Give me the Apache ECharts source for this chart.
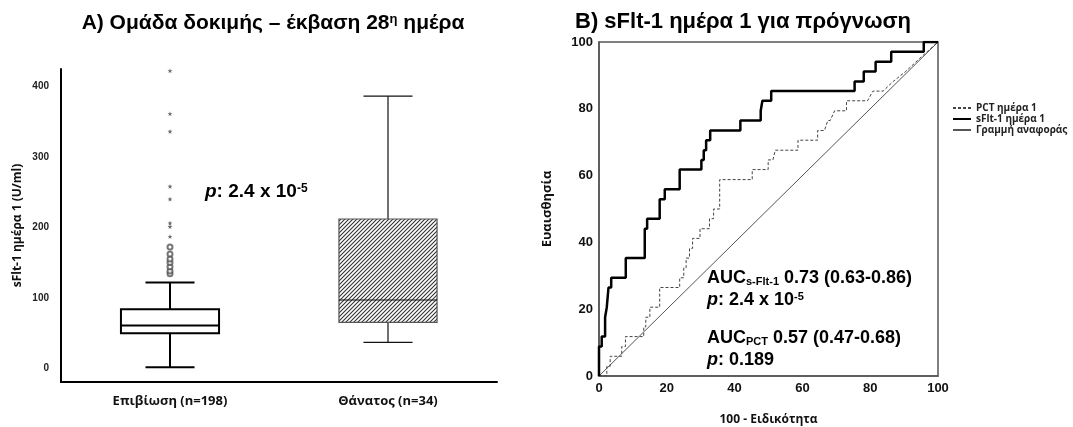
<!DOCTYPE html>
<html>
<head>
<meta charset="utf-8">
<script src="https://cdn.jsdelivr.net/npm/echarts@6/dist/echarts.min.js"></script>
<style>
html,body{margin:0;padding:0;background:#fff;}
#main{width:1073px;height:427px;}
</style>
</head>
<body>
<div id="main"></div>
<script>
// ---------- DATA ----------
const categories = ['Επιβίωση (n=198)', 'Θάνατος (n=34)'];
// [min, Q1, median, Q3, max]
const boxSurvival = [1.4, 49.6, 60.9, 83.6, 121.8];
const boxDeath = [36.9, 65.2, 96.9, 211.8, 386];
const outlierCircles = [134, 138, 144, 150, 155, 162, 172];
const outlierStars = [187, 201, 206, 240, 258, 336, 361, 422];
const boxTicks = [0, 100, 200, 300, 400];

// ROC curves: x = 100 - specificity, y = sensitivity
const pctX = [0,2.3,2.3,3.3,3.3,6.7,6.7,7.8,7.8,13.2,13.2,13.8,13.8,15,15,17.9,17.9,23.8,23.8,25,25,25.7,25.7,26.7,26.7,27.6,27.6,29.8,29.8,32.6,32.6,33.8,33.8,35.6,35.6,45.2,45.2,49.9,49.9,51.3,52,58.7,58.7,64.5,64.5,66.5,67.5,68.2,69.5,73,73,79.2,80.8,83.8,86.8,90.5,94,97,100];
const pctY = [0,0,2.9,2.9,5.9,5.9,8.8,8.8,11.8,11.8,14.7,14.7,17.6,17.6,20.6,20.6,26.5,26.5,29.4,29.4,32.4,32.4,35.3,35.3,38.2,38.2,41.2,41.2,44.1,44.1,47.1,47.1,50,50,58.8,58.8,61.8,61.8,64.7,64.7,67.6,67.6,70.6,70.6,73.5,73.5,76.5,76.5,79.4,79.4,82.4,82.4,85.3,85.3,88.2,91.2,94.5,97.3,100];
const sfltX = [0,0,0.8,0.8,1.8,1.8,2.3,2.3,2.8,2.8,3.6,3.6,7.9,7.9,13.5,13.5,14.2,14.2,17.9,17.9,19.4,19.4,23.8,23.8,30.2,30.2,30.9,30.9,31.6,31.6,32.8,32.8,41.7,41.7,47.7,47.7,48.2,48.2,50.8,50.8,75.4,75.4,78.1,78.1,81.6,81.6,86.2,86.2,95.8,95.8,100];
const sfltY = [0,8.8,8.8,11.8,11.8,17.6,17.6,20.6,20.6,26.5,26.5,29.4,29.4,35.3,35.3,44.1,44.1,47.1,47.1,52.9,52.9,55.9,55.9,61.8,61.8,64.7,64.7,67.6,67.6,70.6,70.6,73.5,73.5,76.5,76.5,79.4,79.4,82.4,82.4,85.3,85.3,88.2,88.2,91.2,91.2,94.1,94.1,97.1,97.1,100,100];
const refX = [0, 100];
const refY = [0, 100];
const rocTicks = [0, 20, 40, 60, 80, 100];
const seriesNames = ['PCT ημέρα 1', 'sFlt-1 ημέρα 1', 'Γραμμή αναφοράς'];

// ---------- helpers ----------
const zip = (xs, ys) => xs.map((x, i) => [x, ys[i]]);
const ARIAL = "'Liberation Sans', Arial, sans-serif";
const OPEN = "'Open Sans', 'Noto Sans', sans-serif";

function makeHatch() {
  const c = document.createElement('canvas');
  c.width = 4; c.height = 4;
  const g = c.getContext('2d');
  g.fillStyle = '#ffffff'; g.fillRect(0, 0, 4, 4);
  g.strokeStyle = '#333333'; g.lineWidth = 1.1;
  g.beginPath();
  g.moveTo(0, 4); g.lineTo(4, 0);
  g.moveTo(-1, 1); g.lineTo(1, -1);
  g.moveTo(3, 5); g.lineTo(5, 3);
  g.stroke();
  return c;
}
const hatch = makeHatch();

const boxStyles = [
  { fill: '#ffffff', stroke: '#000000', whisker: '#000000', lw: 2, med: '#000000' },
  { fill: { image: hatch, repeat: 'repeat' }, stroke: '#555555', whisker: '#111111', lw: 1.2, med: '#111111' }
];

function renderBox(params, api) {
  const idx = api.value(0);
  const v = [1, 2, 3, 4, 5].map(i => api.value(i));
  const p = v.map(val => api.coord([idx, val]));
  const cx = p[0][0];
  const band = api.size([1, 0])[0];
  const bw = band * 0.45;
  const cw = band * 0.225;
  const st = boxStyles[idx];
  const line = (x1, y1, x2, y2, lw, c) => ({
    type: 'line', shape: { x1, y1, x2, y2 }, style: { stroke: c, lineWidth: lw }
  });
  return {
    type: 'group',
    children: [
      line(cx, p[0][1], cx, p[1][1], st.lw, st.whisker),
      line(cx, p[3][1], cx, p[4][1], st.lw, st.whisker),
      line(cx - cw / 2, p[0][1], cx + cw / 2, p[0][1], st.lw, st.whisker),
      line(cx - cw / 2, p[4][1], cx + cw / 2, p[4][1], st.lw, st.whisker),
      {
        type: 'rect',
        shape: { x: cx - bw / 2, y: p[3][1], width: bw, height: p[1][1] - p[3][1] },
        style: { fill: st.fill, stroke: st.stroke, lineWidth: st.lw }
      },
      line(cx - bw / 2, p[2][1], cx + bw / 2, p[2][1], st.lw, st.med)
    ]
  };
}

const starPath = 'path://M50,0 L61,35 L98,35 L68,57 L79,91 L50,70 L21,91 L32,57 L2,35 L39,35 Z';

const chart = echarts.init(document.getElementById('main'), null, { renderer: 'canvas' });

const option = {
  backgroundColor: '#ffffff',
  animation: false,
  grid: [
    { left: 61, top: 69, width: 436, height: 313, outerBoundsMode: 'none', containLabel: false },
    { left: 599, top: 42, width: 339, height: 334, outerBoundsMode: 'none', containLabel: false,
      show: true, borderColor: '#555', borderWidth: 1.5 }
  ],
  xAxis: [
    {
      gridIndex: 0, type: 'category', data: categories,
      axisLine: { onZero: false, lineStyle: { color: '#000', width: 2 } },
      axisTick: { show: false },
      axisLabel: { margin: 13, fontFamily: OPEN, fontWeight: 'bold', fontSize: 13, color: '#111' }
    },
    {
      gridIndex: 1, type: 'value', min: 0, max: 100, interval: 20,
      name: '100 - Ειδικότητα', nameLocation: 'middle', nameGap: 38,
      nameTextStyle: { fontFamily: OPEN, fontWeight: 'bold', fontSize: 12, color: '#111' },
      axisLine: { onZero: false, lineStyle: { color: '#555', width: 1.5 } },
      axisTick: { show: false }, splitLine: { show: false },
      axisLabel: { margin: 6, fontFamily: ARIAL, fontWeight: 'bold', fontSize: 13, color: '#111',
        customValues: rocTicks }
    }
  ],
  yAxis: [
    {
      gridIndex: 0, type: 'value', min: -19.4, max: 424.5,
      name: 'sFlt-1 ημέρα 1 (U/ml)', nameLocation: 'middle', nameGap: 37, nameRotate: 90,
      nameTextStyle: { fontFamily: OPEN, fontWeight: 'bold', fontSize: 12, color: '#111' },
      axisLine: { show: true, onZero: false, lineStyle: { color: '#000', width: 2 } },
      axisTick: { show: false }, splitLine: { show: false },
      axisLabel: { margin: 12, fontFamily: ARIAL, fontWeight: 'bold', fontSize: 10, color: '#222',
        customValues: boxTicks }
    },
    {
      gridIndex: 1, type: 'value', min: 0, max: 100, interval: 20,
      name: 'Ευαισθησία', nameLocation: 'middle', nameGap: 45, nameRotate: 90,
      nameTextStyle: { fontFamily: OPEN, fontWeight: 'bold', fontSize: 13, color: '#111' },
      axisLine: { onZero: false, lineStyle: { color: '#555', width: 1.5 } },
      axisTick: { show: false }, splitLine: { show: false },
      axisLabel: { margin: 6, fontFamily: ARIAL, fontWeight: 'bold', fontSize: 13, color: '#111' }
    }
  ],
  legend: {
    data: seriesNames,
    orient: 'vertical', left: 947, top: 98,
    itemWidth: 18, itemHeight: 8, itemGap: 1,
    itemStyle: { opacity: 0 },
    textStyle: { fontFamily: OPEN, fontWeight: 'bold', fontSize: 10, lineHeight: 8, color: '#222', padding: [0, 0, 0, 0] },
    selectedMode: false
  },
  series: [
    {
      type: 'custom', xAxisIndex: 0, yAxisIndex: 0,
      renderItem: renderBox,
      encode: { x: 0, y: [1, 2, 3, 4, 5] },
      data: [[0].concat(boxSurvival), [1].concat(boxDeath)],
      z: 2
    },
    {
      type: 'scatter', xAxisIndex: 0, yAxisIndex: 0,
      symbol: 'emptyCircle', symbolSize: 5,
      itemStyle: { color: '#555', borderColor: '#555', borderWidth: 1.2 },
      data: outlierCircles.map(v => [0, v]), z: 3
    },
    {
      type: 'scatter', xAxisIndex: 0, yAxisIndex: 0,
      symbol: starPath, symbolSize: 5,
      itemStyle: { color: '#444' },
      data: outlierStars.map(v => [0, v]), z: 3
    },
    {
      name: seriesNames[2], type: 'line', xAxisIndex: 1, yAxisIndex: 1,
      symbol: 'none', data: zip(refX, refY),
      lineStyle: { color: '#555', width: 1 }, itemStyle: { color: '#555' }, z: 3
    },
    {
      name: seriesNames[0], type: 'line', xAxisIndex: 1, yAxisIndex: 1,
      symbol: 'none', data: zip(pctX, pctY),
      lineStyle: { color: '#444', width: 1, type: [3, 2] }, itemStyle: { color: '#444' }, z: 4
    },
    {
      name: seriesNames[1], type: 'line', xAxisIndex: 1, yAxisIndex: 1,
      symbol: 'none', data: zip(sfltX, sfltY),
      lineStyle: { color: '#000', width: 2.5 }, itemStyle: { color: '#000' }, z: 5
    }
  ],
  graphic: [
    {
      type: 'text', x: 273, y: 23,
      style: {
        text: '{t|A) Ομάδα δοκιμής – έκβαση 28}{s|η}{t| ημέρα}',
        align: 'center', verticalAlign: 'middle',
        rich: {
          t: { fontFamily: ARIAL, fontWeight: 'bold', fontSize: 21, fill: '#000' },
          s: { fontFamily: ARIAL, fontWeight: 'bold', fontSize: 13, fill: '#000', verticalAlign: 'top' }
        }
      }
    },
    {
      type: 'text', x: 743, y: 22,
      style: {
        text: 'B) sFlt-1 ημέρα 1 για πρόγνωση',
        align: 'center', verticalAlign: 'middle',
        fontFamily: ARIAL, fontWeight: 'bold', fontSize: 22, fill: '#000'
      }
    },
    {
      type: 'text', x: 205, y: 192,
      style: {
        text: '{i|p}{b|: 2.4 x 10}{s|-5}',
        align: 'left', verticalAlign: 'middle',
        rich: {
          i: { fontFamily: ARIAL, fontWeight: 'bold', fontStyle: 'italic', fontSize: 19, fill: '#000' },
          b: { fontFamily: ARIAL, fontWeight: 'bold', fontSize: 19, fill: '#000' },
          s: { fontFamily: ARIAL, fontWeight: 'bold', fontSize: 12, fill: '#000', verticalAlign: 'top' }
        }
      }
    },
    {
      type: 'text', x: 707, y: 278,
      style: {
        text: '{b|AUC}{sub|s-Flt-1}{b| 0.73 (0.63-0.86)}',
        align: 'left', verticalAlign: 'middle',
        rich: {
          b: { fontFamily: ARIAL, fontWeight: 'bold', fontSize: 18, fill: '#000' },
          sub: { fontFamily: ARIAL, fontWeight: 'bold', fontSize: 11, fill: '#000', verticalAlign: 'bottom' }
        }
      }
    },
    {
      type: 'text', x: 707, y: 300,
      style: {
        text: '{i|p}{b|: 2.4 x 10}{s|-5}',
        align: 'left', verticalAlign: 'middle',
        rich: {
          i: { fontFamily: ARIAL, fontWeight: 'bold', fontStyle: 'italic', fontSize: 18, fill: '#000' },
          b: { fontFamily: ARIAL, fontWeight: 'bold', fontSize: 18, fill: '#000' },
          s: { fontFamily: ARIAL, fontWeight: 'bold', fontSize: 11, fill: '#000', verticalAlign: 'top' }
        }
      }
    },
    {
      type: 'text', x: 707, y: 338,
      style: {
        text: '{b|AUC}{sub|PCT}{b| 0.57 (0.47-0.68)}',
        align: 'left', verticalAlign: 'middle',
        rich: {
          b: { fontFamily: ARIAL, fontWeight: 'bold', fontSize: 18, fill: '#000' },
          sub: { fontFamily: ARIAL, fontWeight: 'bold', fontSize: 11, fill: '#000', verticalAlign: 'bottom' }
        }
      }
    },
    {
      type: 'text', x: 707, y: 360,
      style: {
        text: '{i|p}{b|: 0.189}',
        align: 'left', verticalAlign: 'middle',
        rich: {
          i: { fontFamily: ARIAL, fontWeight: 'bold', fontStyle: 'italic', fontSize: 18, fill: '#000' },
          b: { fontFamily: ARIAL, fontWeight: 'bold', fontSize: 18, fill: '#000' }
        }
      }
    }
  ]
};
chart.setOption(option);
</script>
</body>
</html>
